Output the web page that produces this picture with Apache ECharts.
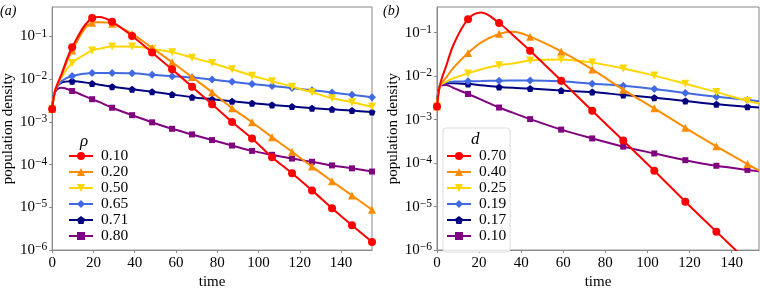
<!DOCTYPE html>
<html>
<head>
<meta charset="utf-8">
<script src="https://cdn.jsdelivr.net/npm/echarts@6/dist/echarts.min.js"></script>
<style>
html, body { margin: 0; padding: 0; background: #fff; }
#chart-container { width: 760px; height: 295px; }
</style>
</head>
<body>
<div id="chart-container"></div>
<script>
// panel (a): marker times and values for each rho
var timeA = [0, 9.69, 19.38, 29.06, 38.75, 48.44, 58.13, 67.81, 77.5, 87.19, 96.88, 106.56, 116.25, 125.94, 135.63, 145.31, 155];
var extraTimeA = [1.5, 4.5, 23];
var rhoLabels = ['0.10', '0.20', '0.50', '0.65', '0.71', '0.80'];
var rho010 = [2e-3, 0.056, 0.27, 0.22, 0.103, 0.042, 0.017, 0.0067, 2.6e-3, 1.0e-3, 4.1e-4, 1.5e-4, 6.3e-5, 2.5e-5, 9.6e-6, 3.8e-6, 1.55e-6];
var rho020 = [2e-3, 0.047, 0.21, 0.20, 0.115, 0.054, 0.025, 0.0112, 4.95e-3, 2.1e-3, 9.8e-4, 4.4e-4, 2.0e-4, 9.0e-5, 4.1e-5, 1.9e-5, 8.8e-6];
var rho050 = [2e-3, 0.024, 0.047, 0.058, 0.058, 0.051, 0.043, 0.032, 0.024, 0.017, 0.0121, 9.0e-3, 6.7e-3, 4.95e-3, 3.6e-3, 2.9e-3, 2.26e-3];
var rho065 = [2e-3, 0.0119, 0.0139, 0.014, 0.0138, 0.0127, 0.0118, 0.0109, 9.8e-3, 8.7e-3, 7.7e-3, 6.9e-3, 6.2e-3, 5.5e-3, 4.9e-3, 4.3e-3, 3.8e-3];
var rho071 = [2e-3, 9.0e-3, 7.9e-3, 6.7e-3, 5.8e-3, 5.1e-3, 4.4e-3, 3.8e-3, 3.4e-3, 3.05e-3, 2.75e-3, 2.5e-3, 2.3e-3, 2.1e-3, 1.97e-3, 1.84e-3, 1.7e-3];
var rho080 = [2e-3, 5.3e-3, 3.4e-3, 2.15e-3, 1.44e-3, 9.8e-4, 6.9e-4, 5.1e-4, 3.76e-4, 2.8e-4, 2.1e-4, 1.7e-4, 1.39e-4, 1.17e-4, 9.6e-5, 8.2e-5, 6.9e-5];
// unmarked points on the curves (start-up and peak)
var rho010Extra = [5.5e-3, 0.013, 0.285];
var rho020Extra = [5.5e-3, 0.012, 0.215];
var rho050Extra = [5.5e-3, 0.011, 0.052];
var rho065Extra = [5.5e-3, 9e-3, 0.014];
var rho071Extra = [5.5e-3, 8.3e-3, 7.4e-3];
var rho080Extra = [5e-3, 6.3e-3, 2.9e-3];

// panel (b): marker times and values for each d
var timeB = [0, 14.75, 29.5, 44.25, 59, 73.75, 88.5, 103.25, 118, 132.75, 147.5];
var extraTimeB = [1.5, 4.5, 8, 21, 36, 153];
var dLabels = ['0.70', '0.40', '0.25', '0.19', '0.17', '0.10'];
var d070 = [2e-3, 0.205, 0.167, 0.0385, 7.9e-3, 1.6e-3, 3.3e-4, 6.7e-5, 1.3e-5, 2.66e-6, 5.4e-7];
var d040 = [2e-3, 0.034, 0.094, 0.081, 0.037, 0.0143, 4.9e-3, 1.82e-3, 6.5e-4, 2.44e-4, 9.5e-5];
var d025 = [2e-3, 0.0116, 0.0178, 0.023, 0.0243, 0.0205, 0.015, 0.0103, 6.7e-3, 4.3e-3, 2.7e-3];
var d019 = [2e-3, 7.6e-3, 7.9e-3, 8.0e-3, 7.6e-3, 6.7e-3, 6.0e-3, 5.1e-3, 4.1e-3, 3.37e-3, 2.85e-3];
var d017 = [2e-3, 6.6e-3, 5.65e-3, 5.2e-3, 4.67e-3, 4.3e-3, 3.7e-3, 3.2e-3, 2.7e-3, 2.27e-3, 1.99e-3];
var d010 = [2e-3, 3.9e-3, 1.9e-3, 1.03e-3, 5.9e-4, 3.7e-4, 2.4e-4, 1.67e-4, 1.17e-4, 8.7e-5, 7.0e-5];
var d070Extra = [6.5e-3, 0.018, 0.055, 0.29, 0.089, 2.6e-7];
var d040Extra = [6e-3, 0.0095, 0.016, 0.06, 0.105, 6.7e-5];
var d025Extra = [6e-3, 7.5e-3, 9e-3, 0.0145, 0.0195, 2.35e-3];
var d019Extra = [6.3e-3, 7.2e-3, 7.5e-3, 7.7e-3, 7.95e-3, 2.65e-3];
var d017Extra = [6.3e-3, 7e-3, 6.9e-3, 6.2e-3, 5.4e-3, 1.9e-3];
var d010Extra = [6e-3, 6.3e-3, 5.3e-3, 2.9e-3, 1.45e-3, 6.5e-5];

var colors = ['#ff0000', '#ff8c00', '#ffd700', '#4169e1', '#000080', '#800080'];
var symbols = [
    'circle',
    'triangle',
    'path://M0,0L2,0L1,2Z',
    'path://M1,0L2,1L1,2L0,1Z',
    'path://M0,-1L0.951,-0.309L0.588,0.809L-0.588,0.809L-0.951,-0.309Z',
    'rect'
];
var symbolSizes = [8, 8, 8, 8, 7, 6];
var serif = '"Liberation Serif", "DejaVu Serif", serif';

function buildData(times, vals, extraTimes, extraVals) {
    var pts = times.map(function (t, i) { return { value: [t, vals[i]] }; });
    extraTimes.forEach(function (t, i) {
        pts.push({ value: [t, extraVals[i]], symbol: 'none' });
    });
    pts.sort(function (a, b) { return a.value[0] - b.value[0]; });
    return pts;
}

var seriesA = [rho010, rho020, rho050, rho065, rho071, rho080];
var extrasA = [rho010Extra, rho020Extra, rho050Extra, rho065Extra, rho071Extra, rho080Extra];
var seriesB = [d070, d040, d025, d019, d017, d010];
var extrasB = [d070Extra, d040Extra, d025Extra, d019Extra, d017Extra, d010Extra];

var series = [];
var namesA = [], namesB = [];
function addSeries(prefix, labels, vals, extras, times, extraTimes, idx, names) {
    labels.forEach(function (lab, i) {
        var name = prefix + lab;
        names.push(name);
        series.push({
            name: name,
            type: 'line',
            xAxisIndex: idx,
            yAxisIndex: idx,
            data: buildData(times, vals[i], extraTimes, extras[i]),
            smooth: 0.35,
            showAllSymbol: true,
            symbol: symbols[i],
            symbolSize: symbolSizes[i],
            lineStyle: { width: 2, color: colors[i] },
            itemStyle: { color: colors[i] },
            z: 10 - i
        });
    });
}
addSeries('a', rhoLabels, seriesA, extrasA, timeA, extraTimeA, 0, namesA);
addSeries('b', dLabels, seriesB, extrasB, timeB, extraTimeB, 1, namesB);

function yLabel(v) {
    var l = Math.log10(v);
    var e = Math.round(l);
    if (Math.abs(l - e) > 1e-6) return '';
    return '{b|10}{s|' + (e < 0 ? '\u2212' : '') + Math.abs(e) + '}';
}

function makeX(idx, max) {
    return {
        type: 'value', gridIndex: idx, min: 0, max: max, interval: 20,
        name: 'time', nameLocation: 'middle', nameGap: 24,
        nameTextStyle: { fontFamily: serif, fontSize: 15, color: '#000' },
        axisLine: { lineStyle: { color: '#888', width: 1 } },
        axisTick: { length: 3, lineStyle: { color: '#888' } },
        axisLabel: { fontFamily: serif, fontSize: 15, color: '#000', margin: 5, showMaxLabel: false },
        splitLine: { show: false }
    };
}
function makeY(idx, max) {
    return {
        type: 'log', logBase: 10, gridIndex: idx, min: 1e-6, max: max,
        name: 'population density', nameLocation: 'middle', nameGap: 36,
        nameTextStyle: { fontFamily: serif, fontSize: 15, color: '#000' },
        axisLine: { lineStyle: { color: '#888', width: 1 } },
        axisTick: { length: 3, lineStyle: { color: '#888' } },
        axisLabel: {
            formatter: yLabel, margin: 5, showMaxLabel: false,
            rich: {
                b: { fontFamily: serif, fontSize: 15, color: '#000', lineHeight: 18 },
                s: { fontFamily: serif, fontSize: 11.5, color: '#000', lineHeight: 12, verticalAlign: 'top' }
            }
        },
        splitLine: { show: false }
    };
}

var legendBase = {
    orient: 'vertical', itemWidth: 24, itemHeight: 10, itemGap: 0,
    textStyle: { fontFamily: serif, fontSize: 15.5, color: '#000', lineHeight: 16, padding: [0, 0, 0, 3] },
    formatter: function (name) { return name.slice(1); }
};

var option = {
    animation: false,
    grid: [
        { left: 51, top: 7, width: 321, height: 250.5, show: true, borderColor: '#888', borderWidth: 1 },
        { left: 437, top: 7, width: 322, height: 250, show: true, borderColor: '#888', borderWidth: 1 }
    ],
    xAxis: [makeX(0, 155), makeX(1, 153)],
    yAxis: [makeY(0, 0.49), makeY(1, 0.39)],
    legend: [
        Object.assign({}, legendBase, { data: namesA, left: 65, top: 148, padding: [0, 3, 0, 3] }),
        Object.assign({}, legendBase, {
            data: namesB, left: 443, top: 128, padding: [20, 4, 8, 3],
            borderColor: '#ddd', borderWidth: 1, borderRadius: 3,
            backgroundColor: 'rgba(255,255,255,0.8)'
        })
    ],
    graphic: [
        { type: 'text', left: 0, top: 4, style: { text: '(a)', font: 'italic 14px "Liberation Serif"', fill: '#000' } },
        { type: 'text', left: 383, top: 4, style: { text: '(b)', font: 'italic 14px "Liberation Serif"', fill: '#000' } },
        { type: 'text', left: 80, top: 133, style: { text: '\u03c1', font: 'italic 17px "Liberation Serif"', fill: '#000' } },
        { type: 'text', left: 471, top: 131, z: 100, style: { text: 'd', font: 'italic 17px "Liberation Serif"', fill: '#000' } }
    ],
    series: series
};

var dom = document.getElementById('chart-container');
var myChart = echarts.init(dom, null, { renderer: 'canvas' });
myChart.setOption(option);
</script>
</body>
</html>
